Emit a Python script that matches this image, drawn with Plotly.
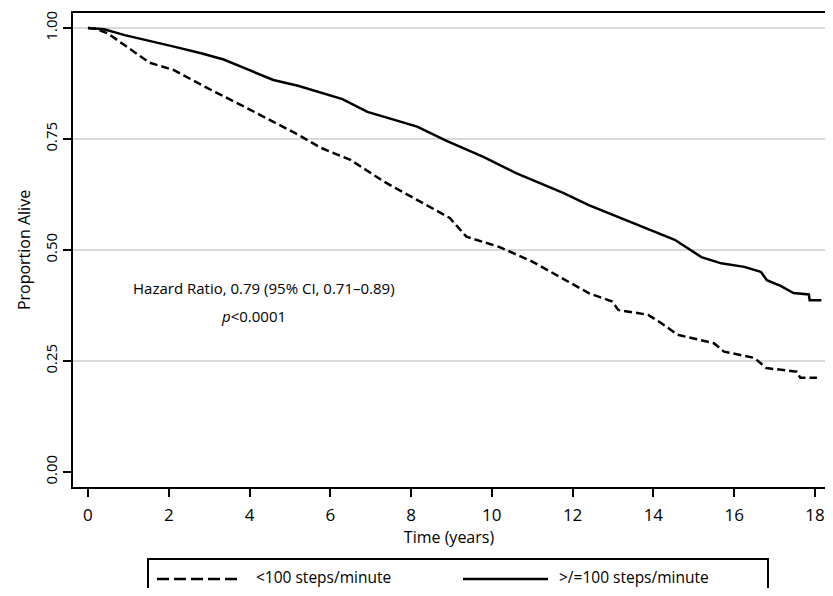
import plotly.graph_objects as go

# ---- data ----
t_fast = [0, 0.4, 0.91, 1.5, 2.13, 2.8, 3.36, 4.0, 4.59, 5.2, 5.77, 6.3, 6.92, 7.5, 8.15,
          8.88, 9.79, 10.6, 11.2, 11.78, 12.4, 13.23, 14.04, 14.53, 15.19, 15.68, 16.25,
          16.66, 16.81, 17.15, 17.47, 17.85, 17.87, 18.16]
s_fast = [1.0, 0.997, 0.984, 0.972, 0.958, 0.943, 0.929, 0.905, 0.883, 0.870, 0.854, 0.840,
          0.811, 0.795, 0.778, 0.746, 0.710, 0.673, 0.650, 0.628, 0.601, 0.571, 0.541, 0.523,
          0.484, 0.470, 0.462, 0.451, 0.432, 0.419, 0.403, 0.400, 0.387, 0.387]

t_slow = [0, 0.2, 0.49, 1.0, 1.33, 1.52, 2.13, 2.95, 3.78, 4.59, 5.2, 5.77, 6.5, 7.33, 8.15,
          8.96, 9.37, 10.18, 11.0, 11.58, 12.4, 12.98, 13.13, 13.87, 14.2, 14.6, 15.5, 15.75,
          16.5, 16.8, 17.55, 17.64, 18.05]
s_slow = [1.0, 0.998, 0.988, 0.955, 0.935, 0.922, 0.905, 0.865, 0.827, 0.789, 0.760, 0.730,
          0.703, 0.654, 0.613, 0.572, 0.530, 0.507, 0.474, 0.444, 0.403, 0.384, 0.365, 0.354,
          0.335, 0.309, 0.290, 0.271, 0.257, 0.234, 0.226, 0.212, 0.212]

x_ticks = [0, 2, 4, 6, 8, 10, 12, 14, 16, 18]
y_ticks = [0.0, 0.25, 0.5, 0.75, 1.0]
y_tick_text = ["0.00", "0.25", "0.50", "0.75", "1.00"]
legend_names = ["<100 steps/minute", ">/=100 steps/minute"]

FONT = "Open Sans"
OFF = 8                      # default page margin of the html body
W, H = 833 - 2 * OFF, 596 - 2 * OFF
ML, MR, MT, MB = 73 - OFF, 0, 13 - OFF, 109 - OFF
PW, PH = W - ML - MR, H - MT - MB


def px(xp):          # screen pixel -> paper x
    return (xp - OFF - ML) / PW


def py(yp):          # screen pixel -> paper y
    return (H - MB - (yp - OFF)) / PH


fig = go.Figure()
fig.add_trace(go.Scatter(x=t_slow, y=s_slow, mode="lines", name=legend_names[0],
                         line=dict(color="black", width=2.5, dash="8px,4px"), showlegend=False))
fig.add_trace(go.Scatter(x=t_fast, y=s_fast, mode="lines", name=legend_names[1],
                         line=dict(color="black", width=2.5), showlegend=False))

fig.add_annotation(x=4.37, y=0.414, xref="x", yref="y", showarrow=False,
                   text="Hazard Ratio, 0.79 (95% CI, 0.71\u20130.89)",
                   font=dict(family=FONT, size=15, color="black"))
fig.add_annotation(x=4.1, y=0.351, xref="x", yref="y", showarrow=False,
                   text="<i>p</i>&lt;0.0001",
                   font=dict(family=FONT, size=15, color="black"))

# legend box drawn below the axis
fig.add_shape(type="rect", xref="paper", yref="paper", x0=px(148), x1=px(768),
              y0=py(640), y1=py(559), line=dict(color="black", width=2), fillcolor="white",
              layer="above")
fig.add_shape(type="line", xref="paper", yref="paper", x0=px(157), x1=px(242),
              y0=py(579), y1=py(579), line=dict(color="black", width=2.5, dash="12px,5px"))
fig.add_shape(type="line", xref="paper", yref="paper", x0=px(463), x1=px(548),
              y0=py(579), y1=py(579), line=dict(color="black", width=2.5))
fig.add_annotation(x=px(255), y=py(577), xref="paper", yref="paper", showarrow=False,
                   xanchor="left", yanchor="middle", text="&lt;100 steps/minute",
                   borderpad=0, font=dict(family=FONT, size=15.5, color="black"))
fig.add_annotation(x=px(558), y=py(577), xref="paper", yref="paper", showarrow=False,
                   xanchor="left", yanchor="middle", text="&gt;/=100 steps/minute",
                   borderpad=0, font=dict(family=FONT, size=15.5, color="black"))

fig.update_layout(
    width=W, height=H,
    margin=dict(l=ML, r=MR, t=MT, b=MB, autoexpand=False),
    paper_bgcolor="white", plot_bgcolor="white",
    font=dict(family=FONT, color="black", size=16),
    xaxis=dict(range=[-0.371, 18.25], tickvals=x_ticks, ticks="outside", ticklen=8,
               tickwidth=2, tickcolor="black", showline=True, linecolor="black",
               linewidth=2, mirror=True, showgrid=False, zeroline=False,
               tickfont=dict(size=17), ticklabelstandoff=4, ticklabeloverflow="allow",
               title=dict(text="Time (years)", font=dict(size=16), standoff=0)),
    yaxis=dict(range=[-0.0338, 1.0338], tickvals=y_ticks, ticktext=y_tick_text,
               tickangle=-90, ticks="outside", ticklen=8, tickwidth=2, tickcolor="black",
               showline=True, linecolor="black", linewidth=2, showgrid=False,
               zeroline=False, tickfont=dict(size=15),
               title=dict(text="Proportion Alive", font=dict(size=16), standoff=6)),
)
# horizontal gridlines at 0.25 .. 1.00
for gv in y_ticks[1:]:
    fig.add_hline(y=gv, line=dict(color="#d9d9d9", width=2), layer="below")

fig.write_html("out.html")
